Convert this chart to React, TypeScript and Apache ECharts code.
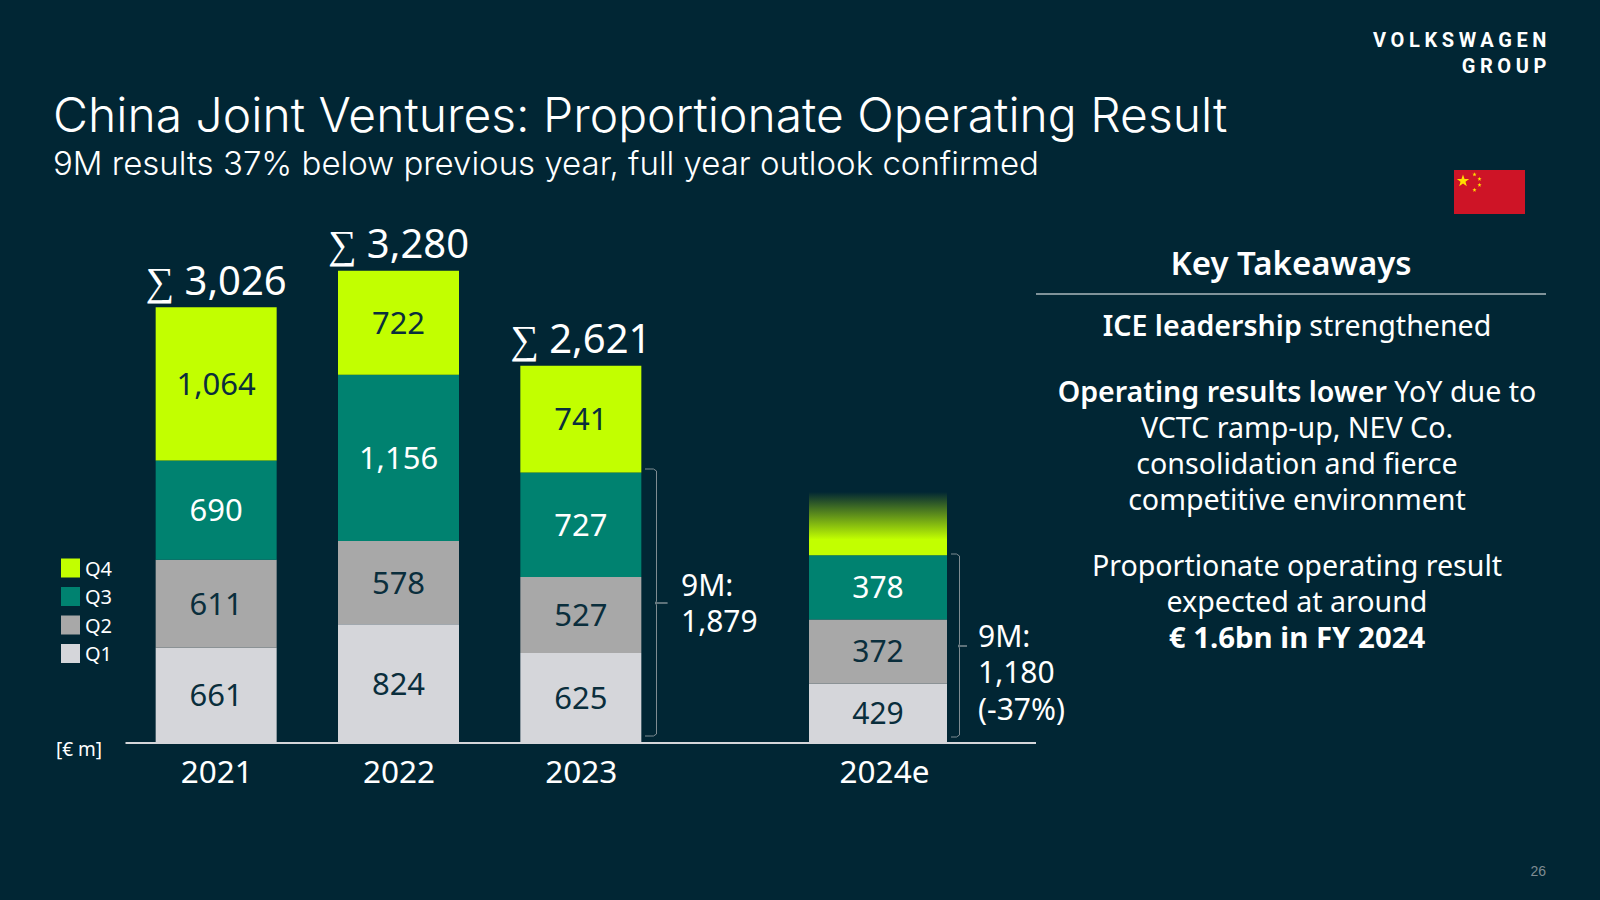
import React, { useEffect, useRef } from "react";
import * as echarts from "echarts";

const years = ["2021", "2022", "2023"];
const q1 = [661, 824, 625];
const q2 = [611, 578, 527];
const q3 = [690, 1156, 727];
const q4 = [1064, 722, 741];
const totals = ["∑ 3,026", "∑ 3,280", "∑ 2,621"];

const yearE = ["2024e"];
// printed figures for 2024e
const labelsE = ["429", "372", "378"];
// the reference draws the 2024e segments at heights that differ from the printed figures
const drawnE = [411, 446, 446];
const drawnEq4 = [440];

const BG = "#012634";
const LIME = "#C2FF00";
const TEAL = "#008270";
const GREY = "#A8A8A8";
const LIGHT = "#D5D6DA";
const DARK = "#0A2E3C";
const FONT = "Noto Sans";
const HEAD = "Inter";

const makeStar = (cx: number, cy: number, r: number) => {
  const pts: number[][] = [];
  for (let i = 0; i < 10; i++) {
    const rad = i % 2 === 0 ? r : r * 0.4;
    const a = -Math.PI / 2 + (i * Math.PI) / 5;
    pts.push([cx + rad * Math.cos(a), cy + rad * Math.sin(a)]);
  }
  return pts;
};

const brace = (xa: number, xb: number, xt: number, y0: number, ym: number, y1: number) => [
  [xa, y0], [xb - 3, y0], [xb, y0 + 2], [xb, ym - 2], [xb - 1, ym], [xt, ym], [xb - 1, ym], [xb, ym + 2], [xb, y1 - 2], [xb - 3, y1], [xa, y1],
];

const txt = (x: number, y: number, text: string, fontSize: number, extra: any = {}) => ({
  type: "text",
  x,
  y,
  silent: true,
  style: { text, fontSize, fontFamily: FONT, fill: "#FFFFFF", verticalAlign: "middle", align: "left", ...extra },
});

const BODY = 28.6;
const body = (y: number, text: string, rich = false) =>
  txt(1297, y, text, BODY, {
    align: "center",
    ...(rich
      ? {
          rich: {
            b: { fontSize: BODY, fontFamily: FONT, fontWeight: 600, fill: "#FFFFFF" },
            n: { fontSize: BODY, fontFamily: FONT, fill: "#FFFFFF" },
            k: { fontSize: 29.4, fontFamily: FONT, fontWeight: 700, fill: "#FFFFFF" },
          },
        }
      : {}),
  });

const barSeries = (name: string, data: number[], color: any, labelColor: string, axis: number, width: number, labels?: string[]) => ({
  name,
  type: "bar",
  stack: "s" + axis,
  xAxisIndex: axis,
  yAxisIndex: axis,
  barWidth: width,
  data,
  itemStyle: { color },
  label: {
    show: !!labels || axis === 0,
    position: "inside",
    offset: [0, -1],
    fontFamily: FONT,
    fontSize: axis === 0 ? 31 : 30,
    color: labelColor,
    formatter: (p: any) => (labels ? labels[p.dataIndex] : Number(p.value).toLocaleString("en-US")),
  },
});

export default function App() {
  const ref = useRef<HTMLDivElement>(null);
  useEffect(() => {
    const chart = echarts.init(ref.current!, null, { renderer: "svg" });
    const axis = (idx: number, data: string[], extra: any = {}) => ({
      type: "category",
      gridIndex: idx,
      data,
      axisLine: { show: false },
      axisTick: { show: false },
      axisLabel: { color: "#FFFFFF", fontFamily: FONT, fontSize: 31.5, margin: 11, padding: [0, 0, 0, 1], ...extra },
    });
    const yAxisOf = (idx: number) => ({ type: "value", gridIndex: idx, min: 0, max: 3500, show: false });
    const gridBase = { top: 239, height: 504 };
    chart.setOption({
      animation: false,
      backgroundColor: BG,
      grid: [
        { ...gridBase, left: 125, width: 547 },
        { ...gridBase, left: 719.5, width: 317 },
      ],
      xAxis: [axis(0, years), axis(1, yearE, { padding: [0, 0, 0, 13] })],
      yAxis: [yAxisOf(0), yAxisOf(1)],
      legend: {
        orient: "vertical",
        left: 61,
        top: 558,
        padding: 0,
        itemWidth: 19,
        itemHeight: 19,
        itemGap: 8.5,
        icon: "rect",
        data: ["Q4", "Q3", "Q2", "Q1"],
        textStyle: { color: "#FFFFFF", fontFamily: FONT, fontSize: 20 },
      },
      series: [
        barSeries("Q1", q1, LIGHT, DARK, 0, 121),
        barSeries("Q2", q2, GREY, DARK, 0, 121),
        barSeries("Q3", q3, TEAL, "#FFFFFF", 0, 121),
        barSeries("Q4", q4, LIME, DARK, 0, 121),
        {
          name: "total",
          type: "bar",
          stack: "s0",
          xAxisIndex: 0,
          yAxisIndex: 0,
          barWidth: 121,
          data: years.map(() => 0),
          itemStyle: { color: "transparent" },
          label: {
            show: true,
            position: "top",
            distance: 8,
            fontFamily: FONT,
            fontSize: 40,
            color: "#FFFFFF",
            formatter: (p: any) => totals[p.dataIndex],
          },
        },
        barSeries("Q1", [drawnE[0]], LIGHT, DARK, 1, 138, [labelsE[0]]),
        barSeries("Q2", [drawnE[1]], GREY, DARK, 1, 138, [labelsE[1]]),
        barSeries("Q3", [drawnE[2]], TEAL, "#FFFFFF", 1, 138, [labelsE[2]]),
        barSeries(
          "Q4",
          drawnEq4,
          new echarts.graphic.LinearGradient(0, 0, 0, 1, [
            { offset: 0, color: BG },
            { offset: 0.75, color: LIME },
            { offset: 1, color: LIME },
          ]),
          DARK,
          1,
          138,
        ),
      ],
      graphic: [
        { type: "line", shape: { x1: 125.5, y1: 743, x2: 1036, y2: 743 }, style: { stroke: "#D5D6DA", lineWidth: 2 } },
        txt(53, 114, "China Joint Ventures: Proportionate Operating Result", 48, { fontWeight: 300, fontFamily: HEAD }),
        txt(53, 163, "9M results 37% below previous year, full year outlook confirmed", 33, { fontWeight: 300, fontFamily: HEAD }),
        txt(1551, 40, "VOLKSWAGEN", 20, { align: "right", fontWeight: 700, fontFamily: "Roboto" }),
        txt(1551, 66, "GROUP", 20, { align: "right", fontWeight: 700, fontFamily: "Roboto" }),
        { type: "rect", shape: { x: 1454, y: 170, width: 71, height: 44 }, style: { fill: "#CE1426" } },
        { type: "polygon", shape: { points: makeStar(1463, 181, 6.5) }, style: { fill: "#FFDE00" } },
        { type: "polygon", shape: { points: makeStar(1474.5, 174.5, 2.2) }, style: { fill: "#FFDE00" } },
        { type: "polygon", shape: { points: makeStar(1479.5, 179, 2.2) }, style: { fill: "#FFDE00" } },
        { type: "polygon", shape: { points: makeStar(1479.5, 185, 2.2) }, style: { fill: "#FFDE00" } },
        { type: "polygon", shape: { points: makeStar(1474.5, 190, 2.2) }, style: { fill: "#FFDE00" } },
        { type: "polyline", shape: { points: brace(645, 656.5, 667.5, 469, 603, 736) }, style: { stroke: "#7F8C92", lineWidth: 1, fill: "none" } },
        { type: "polyline", shape: { points: brace(951, 959.5, 967, 554, 646, 737) }, style: { stroke: "#7F8C92", lineWidth: 1, fill: "none" } },
        txt(681, 584, "9M:", 30),
        txt(681, 620.5, "1,879", 30),
        txt(978, 635, "9M:", 30),
        txt(978, 671.5, "1,180", 30),
        txt(978, 708.5, "(-37%)", 30),
        txt(56, 749, "[€ m]", 19),
        txt(1291, 262, "Key Takeaways", 33, { align: "center", fontWeight: 600 }),
        { type: "line", shape: { x1: 1036, y1: 294, x2: 1546, y2: 294 }, style: { stroke: "#FFFFFF", lineWidth: 1 } },
        body(324.8, "{b|ICE leadership} {n|strengthened}", true),
        body(390.8, "{b|Operating results lower} {n|YoY due to}", true),
        body(426.3, "VCTC ramp-up, NEV Co."),
        body(462.5, "consolidation and fierce"),
        body(498.3, "competitive environment"),
        body(564.8, "Proportionate operating result"),
        body(600.3, "expected at around"),
        body(637, "{k|€ 1.6bn in FY 2024}", true),
        txt(1546, 871, "26", 14, { align: "right", fill: "#7F8C92", fontFamily: "Liberation Sans" }),
      ],
    });
    // the wordmark is letter-spaced, which the text style itself cannot express
    ref.current!.querySelectorAll("text").forEach((t) => {
      if (t.textContent === "VOLKSWAGEN" || t.textContent === "GROUP") {
        (t as SVGTextElement).style.letterSpacing = "4.6px";
      }
    });
    return () => chart.dispose();
  }, []);
  return <div ref={ref} style={{ position: "fixed", left: 0, top: 0, width: 1600, height: 900 }} />;
}
